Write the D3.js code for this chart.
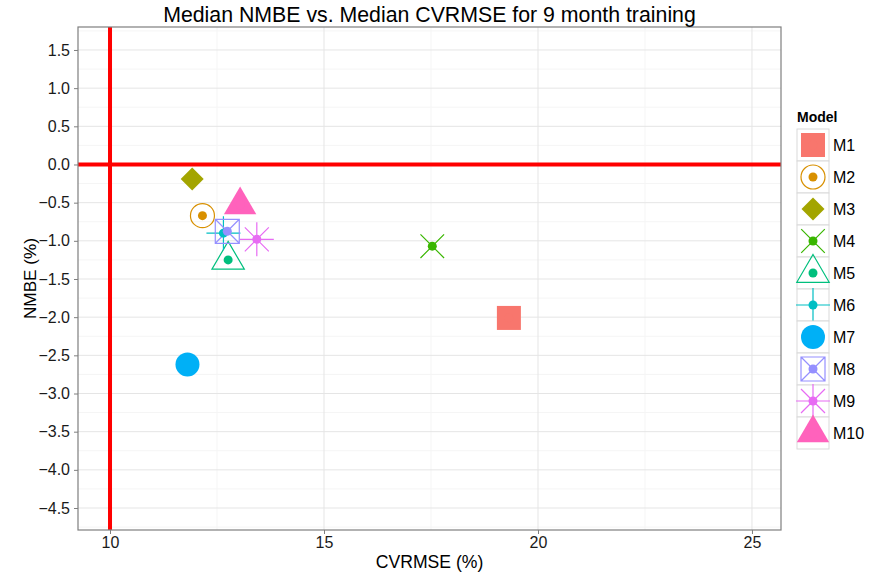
<!DOCTYPE html>
<html>
<head>
<meta charset="utf-8">
<script src="https://d3js.org/d3.v7.min.js"></script>
<style>
  body { margin: 0; background: #fff; }
  svg text { font-family: "Liberation Sans", Arial, Helvetica, sans-serif; }
</style>
</head>
<body>
<div id="chart"></div>
<script>
// data
var models = ["M1", "M2", "M3", "M4", "M5", "M6", "M7", "M8", "M9", "M10"];
var cvrmse = [19.32, 12.16, 11.92, 17.53, 12.76, 12.65, 11.81, 12.74, 13.43, 13.04];
var nmbe   = [-2.01, -0.67, -0.19, -1.07, -1.25, -0.90, -2.62, -0.875, -0.98, -0.53];
var colors = ["#F8766D", "#D89000", "#A3A500", "#39B600", "#00BF7D",
              "#00BFC4", "#00B0F6", "#9590FF", "#E76BF3", "#FF62BC"];
var shapes = ["square", "circleOpen", "diamond", "cross", "triangleOpen",
              "plus", "circle", "squareX", "asterisk", "triangle"];
var xTicks = [10, 15, 20, 25];
var xMinor = [12.5, 17.5, 22.5];
var yTicks = [-4.5, -4, -3.5, -3, -2.5, -2, -1.5, -1, -0.5, 0, 0.5, 1, 1.5];
var yMinor = [-4.75, -4.25, -3.75, -3.25, -2.75, -2.25, -1.75, -1.25, -0.75, -0.25, 0.25, 0.75, 1.25, 1.75];
var refX = 10, refY = 0;

var W = 871, H = 574;
var pl = 78, pr = 781, pt = 27, pb = 530;

var svg = d3.select('#chart').append('svg')
  .attr('width', W).attr('height', H);

var x = d3.scaleLinear().domain([9.252, 25.678]).range([pl, pr]);
var y = d3.scaleLinear().domain([-4.788, 1.801]).range([pb, pt]);

// panel background
svg.append('rect').attr('x', pl).attr('y', pt)
  .attr('width', pr - pl).attr('height', pb - pt).attr('fill', '#fff');

// minor grid
svg.selectAll('.xminor').data(xMinor).enter().append('line')
  .attr('x1', d => x(d)).attr('x2', d => x(d)).attr('y1', pt).attr('y2', pb)
  .attr('stroke', '#F5F5F5').attr('stroke-width', 1);
svg.selectAll('.yminor').data(yMinor).enter().append('line')
  .attr('y1', d => y(d)).attr('y2', d => y(d)).attr('x1', pl).attr('x2', pr)
  .attr('stroke', '#F5F5F5').attr('stroke-width', 1);
// major grid
svg.selectAll('.xmajor').data(xTicks).enter().append('line')
  .attr('x1', d => x(d)).attr('x2', d => x(d)).attr('y1', pt).attr('y2', pb)
  .attr('stroke', '#E5E5E5').attr('stroke-width', 1);
svg.selectAll('.ymajor').data(yTicks).enter().append('line')
  .attr('y1', d => y(d)).attr('y2', d => y(d)).attr('x1', pl).attr('x2', pr)
  .attr('stroke', '#E5E5E5').attr('stroke-width', 1);

// reference lines
svg.append('line').attr('x1', x(refX)).attr('x2', x(refX)).attr('y1', pt).attr('y2', pb)
  .attr('stroke', '#FF0000').attr('stroke-width', 4);
svg.append('line').attr('x1', pl).attr('x2', pr).attr('y1', y(refY)).attr('y2', y(refY))
  .attr('stroke', '#FF0000').attr('stroke-width', 4);

// shape drawing
function drawShape(g, shape, col) {
  var sw = 1.2;
  switch (shape) {
    case 'square':
      g.append('rect').attr('x', -12).attr('y', -12).attr('width', 24).attr('height', 24).attr('fill', col);
      break;
    case 'circleOpen':
      g.append('circle').attr('r', 12).attr('fill', 'none').attr('stroke', col).attr('stroke-width', sw);
      break;
    case 'diamond':
      g.append('path').attr('d', 'M0,-11.5L11.5,0L0,11.5L-11.5,0Z').attr('fill', col);
      break;
    case 'cross':
      g.append('path').attr('d', 'M-11.8,-11.8L11.8,11.8M-11.8,11.8L11.8,-11.8')
        .attr('stroke', col).attr('stroke-width', sw);
      break;
    case 'triangleOpen':
      g.append('path').attr('d', 'M0,-18.5L16.2,9.3L-16.2,9.3Z')
        .attr('fill', 'none').attr('stroke', col).attr('stroke-width', sw);
      break;
    case 'plus':
      g.append('path').attr('d', 'M-17,0L17,0M0,-17L0,17')
        .attr('stroke', col).attr('stroke-width', sw);
      break;
    case 'circle':
      g.append('circle').attr('r', 12).attr('fill', col);
      break;
    case 'squareX':
      g.append('path').attr('d', 'M-12,-12L12,-12L12,12L-12,12ZM-12,-12L12,12M-12,12L12,-12')
        .attr('fill', 'none').attr('stroke', col).attr('stroke-width', sw);
      break;
    case 'asterisk':
      g.append('path').attr('d', 'M-17,0L17,0M0,-17L0,17M-12,-12L12,12M-12,12L12,-12')
        .attr('stroke', col).attr('stroke-width', sw);
      break;
    case 'triangle':
      g.append('path').attr('d', 'M0,-18.5L16.2,9.3L-16.2,9.3Z').attr('fill', col);
      break;
  }
}

var idx = d3.range(models.length);

// big shapes layer
var pts = svg.selectAll('.pt').data(idx).enter().append('g')
  .attr('transform', i => 'translate(' + x(cvrmse[i]) + ',' + y(nmbe[i]) + ')');
pts.each(function(i) { drawShape(d3.select(this), shapes[i], colors[i]); });
// small dots layer
svg.selectAll('.dot').data(idx).enter().append('circle')
  .attr('cx', i => x(cvrmse[i])).attr('cy', i => y(nmbe[i]))
  .attr('r', 4.5).attr('fill', i => colors[i]);

// panel border
svg.append('rect').attr('x', pl).attr('y', pt)
  .attr('width', pr - pl).attr('height', pb - pt)
  .attr('fill', 'none').attr('stroke', '#7F7F7F').attr('stroke-width', 1.2);

// axes
var xAxis = svg.append('g').attr('transform', 'translate(0,' + pb + ')')
  .call(d3.axisBottom(x).tickValues(xTicks).tickSize(4).tickPadding(3).tickFormat(d3.format('d')));
var yAxis = svg.append('g').attr('transform', 'translate(' + pl + ',0)')
  .call(d3.axisLeft(y).tickValues(yTicks).tickSize(4).tickPadding(4)
    .tickFormat(d => d3.format('.1f')(d).replace('-', '\u2212')));
[xAxis, yAxis].forEach(function(a) {
  a.select('.domain').remove();
  a.selectAll('line').attr('stroke', '#7F7F7F');
  a.selectAll('text').attr('font-size', 16).attr('fill', '#1a1a1a')
    .style('font-family', '"Liberation Sans", Arial, sans-serif');
});

// titles
svg.append('text').attr('x', (pl + pr) / 2).attr('y', 22)
  .attr('text-anchor', 'middle').attr('font-size', 21.3).attr('fill', '#000')
  .text('Median NMBE vs. Median CVRMSE for 9 month training');
svg.append('text').attr('x', (pl + pr) / 2).attr('y', 568)
  .attr('text-anchor', 'middle').attr('font-size', 17.6).attr('fill', '#000')
  .text('CVRMSE (%)');
svg.append('text').attr('transform', 'translate(36,' + ((pt + pb) / 2) + ') rotate(-90)')
  .attr('text-anchor', 'middle').attr('font-size', 17.2).attr('fill', '#000')
  .text('NMBE (%)');

// legend
var lx = 797, ly = 129, ks = 32;
svg.append('text').attr('x', lx).attr('y', 122).attr('font-size', 14)
  .attr('font-weight', 'bold').attr('fill', '#000').text('Model');
var leg = svg.selectAll('.leg').data(idx).enter().append('g')
  .attr('transform', i => 'translate(' + lx + ',' + (ly + i * ks) + ')');
leg.append('rect').attr('width', ks).attr('height', ks)
  .attr('fill', '#fff').attr('stroke', '#D9D9D9').attr('stroke-width', 1);
leg.each(function(i) {
  var g = d3.select(this).append('g').attr('transform', 'translate(' + ks / 2 + ',' + ks / 2 + ')');
  drawShape(g, shapes[i], colors[i]);
  g.append('circle').attr('r', 4.5).attr('fill', colors[i]);
});
leg.append('text').attr('x', ks + 4).attr('y', ks / 2 + 6)
  .attr('font-size', 16).attr('fill', '#000').text(i => models[i]);
</script>
</body>
</html>
